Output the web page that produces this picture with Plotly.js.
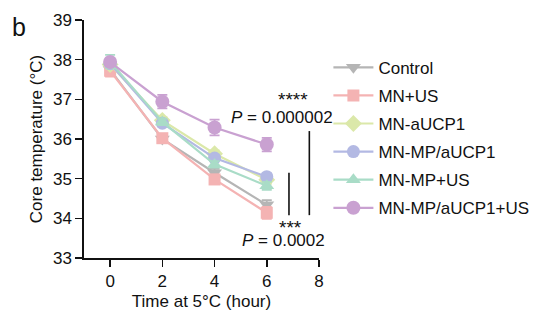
<!DOCTYPE html>
<html>
<head>
<meta charset="utf-8">
<script src="https://cdn.plot.ly/plotly-3.0.1.min.js"></script>
<style>html,body{margin:0;padding:0;background:#fff;}#chart{width:554px;height:325px;}</style>
</head>
<body>
<div id="chart"></div>
<script>
const hours = [0, 2, 4, 6];
const groups = ["Control", "MN+US", "MN-aUCP1", "MN-MP/aUCP1", "MN-MP+US", "MN-MP/aUCP1+US"];
const control      = [37.75, 36.00, 35.15, 34.34];
const mnUS         = [37.72, 36.02, 34.98, 34.14];
const mnAUCP1      = [37.88, 36.47, 35.63, 34.97];
const mnMPaUCP1    = [37.90, 36.40, 35.52, 35.05];
const mnMPUS       = [37.95, 36.43, 35.36, 34.82];
const mnMPaUCP1US  = [37.94, 36.94, 36.29, 35.86];
const errControl     = [0.10, 0.10, 0.10, 0.12];
const errMnUS        = [0.15, 0.10, 0.12, 0.15];
const errMnAUCP1     = [0.10, 0.08, 0.08, 0.10];
const errMnMPaUCP1   = [0.10, 0.08, 0.08, 0.08];
const errMnMPUS      = [0.17, 0.08, 0.08, 0.10];
const errMnMPaUCP1US = [0.10, 0.17, 0.20, 0.17];
const xTicks = [0, 2, 4, 6, 8];
const yTicks = [33, 34, 35, 36, 37, 38, 39];

const seriesValues = [control, mnUS, mnAUCP1, mnMPaUCP1, mnMPUS, mnMPaUCP1US];
const seriesErrors = [errControl, errMnUS, errMnAUCP1, errMnMPaUCP1, errMnMPUS, errMnMPaUCP1US];
const colors = ["#b5b5b5", "#f4b3b3", "#dbe8a9", "#b3b9e3", "#a9dcc7", "#c9a1d1"];
const symbols = ["triangle-down", "square", "diamond", "circle", "triangle-up", "circle"];
const sizes = [13, 12, 13, 13, 13, 14];

const FONT = "Liberation Sans, Arial, sans-serif";
const traces = groups.map((g, i) => ({
  type: "scatter",
  mode: "lines+markers",
  name: g,
  legendgroup: "g" + i,
  x: hours,
  y: seriesValues[i],
  error_y: {type: "data", array: seriesErrors[i], visible: true, color: colors[i], thickness: 1.8, width: 5},
  line: {color: colors[i], width: 2.2},
  marker: {symbol: symbols[i], size: sizes[i], color: colors[i]},
  cliponaxis: false
}));

const layout = {
  width: 554, height: 325,
  margin: {l: 84, r: 235, t: 20, b: 67},
  paper_bgcolor: "#fff", plot_bgcolor: "#fff",
  font: {family: FONT, size: 17, color: "#111"},
  showlegend: true,
  legend: {
    x: 1.04, xanchor: "left", y: 0.875, yanchor: "top",
    font: {family: FONT, size: 17, color: "#111"},
    tracegroupgap: 3, itemwidth: 40, bgcolor: "rgba(0,0,0,0)"
  },
  xaxis: {
    range: [-1, 8], tickvals: xTicks, ticktext: xTicks.map(String),
    showline: true, linecolor: "#111", linewidth: 1.6,
    ticks: "outside", ticklen: 7, tickwidth: 1.6, tickcolor: "#111",
    showgrid: false, zeroline: false,
    tickfont: {family: FONT, size: 17, color: "#111"},
    title: {text: "Time at 5°C (hour)", font: {family: FONT, size: 17, color: "#111"}, standoff: 5}
  },
  yaxis: {
    range: [33, 39], tickvals: yTicks, ticktext: yTicks.map(String),
    showline: true, linecolor: "#111", linewidth: 1.6,
    ticks: "outside", ticklen: 7, tickwidth: 1.6, tickcolor: "#111",
    showgrid: false, zeroline: false,
    tickfont: {family: FONT, size: 17, color: "#111"},
    title: {text: "Core temperature (°C)", font: {family: FONT, size: 17, color: "#111"}, standoff: 6}
  },
  shapes: [
    {type: "line", xref: "x", yref: "y", x0: 6.85, x1: 6.85, y0: 34.08, y1: 35.15, line: {color: "#111", width: 1.6}},
    {type: "line", xref: "x", yref: "y", x0: 7.63, x1: 7.63, y0: 34.08, y1: 36.2, line: {color: "#111", width: 1.6}}
  ],
  annotations: [
    {text: "b", xref: "paper", yref: "paper", x: -0.277, y: 0.97, xanchor: "center", yanchor: "middle", showarrow: false, font: {family: FONT, size: 25, color: "#111"}},
    {text: "****", xref: "x", yref: "y", x: 7.0, y: 36.68, xanchor: "center", yanchor: "bottom", showarrow: false, font: {family: FONT, size: 19, color: "#111"}},
    {text: "<i>P</i> = 0.000002", xref: "x", yref: "y", x: 6.6, y: 36.82, xanchor: "center", yanchor: "top", showarrow: false, font: {family: FONT, size: 17, color: "#111"}},
    {text: "***", xref: "x", yref: "y", x: 6.9, y: 33.45, xanchor: "center", yanchor: "bottom", showarrow: false, font: {family: FONT, size: 19, color: "#111"}},
    {text: "<i>P</i> = 0.0002", xref: "x", yref: "y", x: 6.65, y: 33.72, xanchor: "center", yanchor: "top", showarrow: false, font: {family: FONT, size: 17, color: "#111"}}
  ]
};

Plotly.newPlot("chart", traces, layout, {displayModeBar: false, staticPlot: true});
</script>
</body>
</html>
